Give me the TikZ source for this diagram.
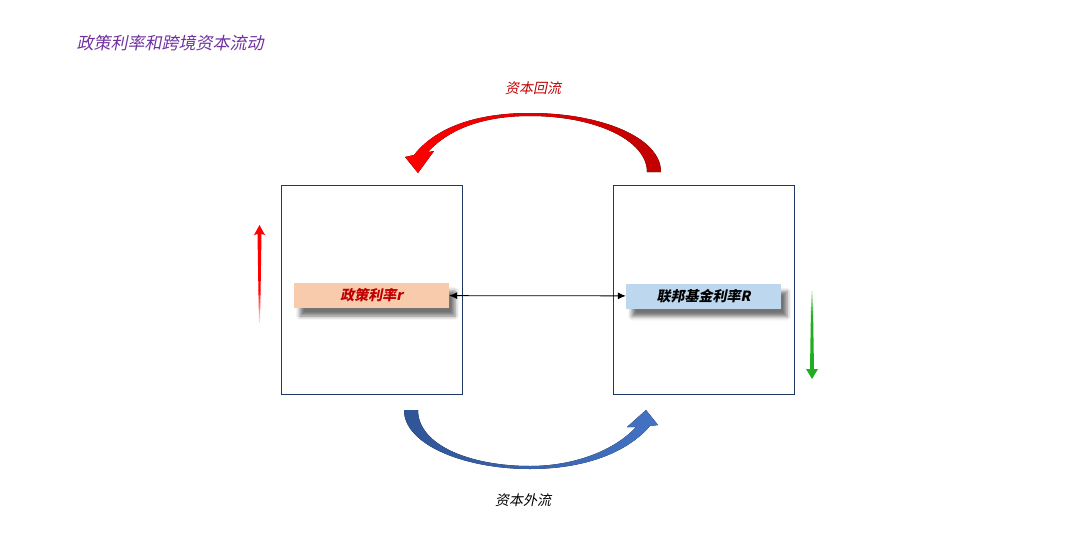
\documentclass[tikz,border=0pt]{standalone}
\usepackage{fontspec}
\newfontfamily\cjk[FakeSlant=0.2]{Noto Sans CJK SC}
\usetikzlibrary{arrows.meta,shadows.blur}
\definecolor{navy}{HTML}{1F3864}
\definecolor{titlepurple}{HTML}{7030A0}
\definecolor{darkred}{HTML}{C00000}
\definecolor{peach}{HTML}{F8CBAD}
\definecolor{lightblue}{HTML}{BDD7EE}
\definecolor{blueA}{HTML}{2F5597}
\definecolor{blueB}{HTML}{4472C4}
\definecolor{arrowgreen}{HTML}{20AE20}
\begin{document}
\begin{tikzpicture}[x=1pt, y=-1pt,
  panel/.style={draw=navy, line width=0.8pt, minimum width=181pt, minimum height=209pt},
  rate/.style={minimum width=155pt, minimum height=25pt, inner sep=0pt, font=\cjk\bfseries\fontsize{14}{16}\selectfont,
    blur shadow={shadow xshift=6pt, shadow yshift=-8pt, shadow blur radius=4pt, shadow opacity=55}},
  flowtext/.style={font=\cjk\fontsize{14}{16}\selectfont},
  link/.style={{Latex[length=8pt,width=7pt]}-{Latex[length=8pt,width=7pt]}, line width=0.8pt}
]
\useasboundingbox (0,0) rectangle (1080,560);
\node[anchor=west, font=\cjk\fontsize{17}{20}\selectfont, text=titlepurple] (title) at (73,43) {政策利率和跨境资本流动};
\node[panel] (home) at (371.5,289.5) {};
\node[panel] (fed) at (703.5,289.5) {};
\node[rate, fill=peach, text=darkred] (policy) at (371.5,295.5) {政策利率r};
\node[rate, fill=lightblue] (fedrate) at (703.5,296) {联邦基金利率R};
\draw[link] (policy) -- (fedrate);
\node[flowtext, text=darkred] (back) at (533,88) {资本回流};
\node[flowtext] (out) at (523,500) {资本外流};
\fill[left color=red, right color=darkred] (661,172) .. controls (661,137) and (600,113) .. (530,113)
  .. controls (475,113) and (435,128) .. (414,155) -- (405,157) -- (418,173) -- (434,151) -- (428,152)
  .. controls (450,128) and (485,116) .. (530,116) .. controls (595,116) and (647,140) .. (647,172) -- cycle;
\fill[left color=blueA, right color=blueB] (404,410) .. controls (404,445) and (465,469) .. (530,469)
  .. controls (580,469) and (625,455) .. (650,426) -- (658,425) -- (646,410) -- (627,427) -- (636,427)
  .. controls (615,450) and (575,466) .. (530,466) .. controls (470,466) and (418,445) .. (418,410) -- cycle;
\fill[red] (259.5,225) -- (265,235) -- (261.5,234) -- (260.6,290.5) -- (258.4,290.5) -- (257.5,234) -- (254,235) -- cycle;
\foreach \i [evaluate=\i as \ya using 290+4*\i, evaluate=\i as \w using 1.1-0.075*\i, evaluate=\i as \pct using 95-11*\i] in {0,...,7}
  \fill[red!\pct!white] (259.5-\w,\ya) -- (259.5+\w,\ya) -- (259.5+\w-0.075,\ya+4.5) -- (259.5-\w+0.075,\ya+4.5) -- cycle;
\foreach \i [evaluate=\i as \ya using 291+4*\i, evaluate=\i as \w using 0.75+0.065*\i, evaluate=\i as \pct using 15+15*\i] in {0,...,5}
  \fill[arrowgreen!\pct!white] (812-\w,\ya) -- (812+\w,\ya) -- (812+\w+0.065,\ya+4.5) -- (812-\w-0.065,\ya+4.5) -- cycle;
\fill[arrowgreen] (810.87,315) -- (813.13,315) -- (814,369) -- (818,369) -- (812,379) -- (806,369) -- (810,369) -- cycle;
\end{tikzpicture}
\end{document}
